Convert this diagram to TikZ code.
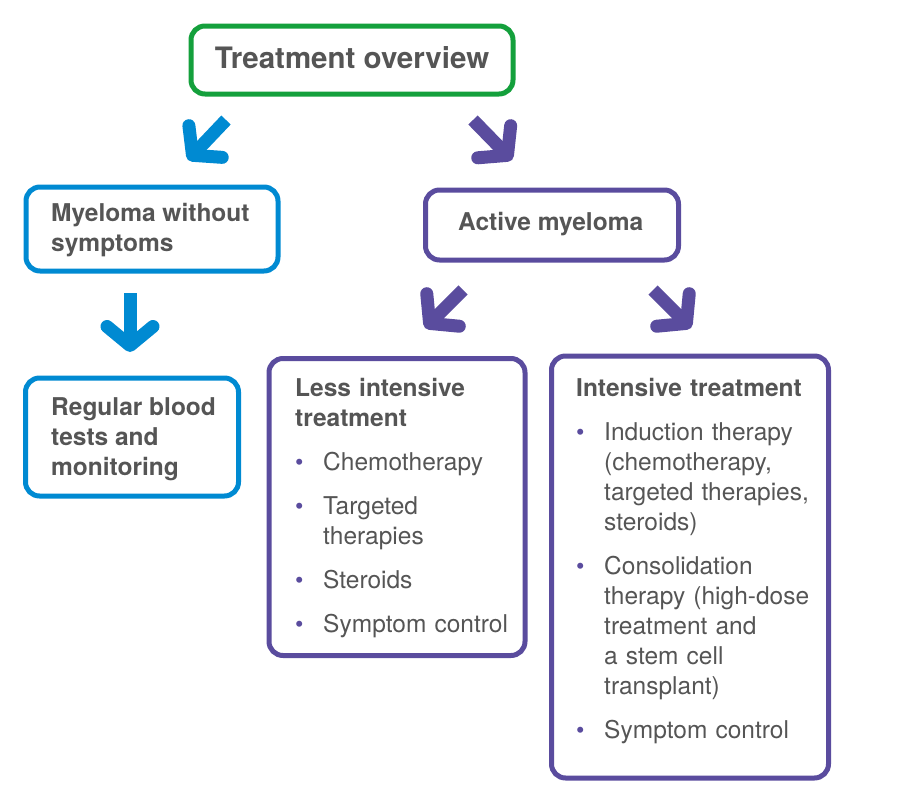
\documentclass[tikz,border=0pt]{standalone}
\usepackage{fontspec}
\setmainfont{TeX Gyre Heros}
\usetikzlibrary{arrows.meta}
\definecolor{grn}{RGB}{20,160,60}
\definecolor{blu}{RGB}{0,138,210}
\definecolor{pur}{RGB}{90,76,158}
\definecolor{txt}{RGB}{85,85,85}
\newcommand{\bitm}[1]{\par\hangindent=28pt\hangafter=1\noindent\makebox[28pt][l]{\hspace{0pt}\textcolor{pur}{\fontsize{24}{24}\selectfont\textbullet}}#1\par\vspace{14pt}}
\begin{document}
\begin{tikzpicture}[x=1pt,y=-1pt,
  box/.style={draw,line width=5pt,rounded corners=14pt,fill=white},
  lbl/.style={anchor=north west,inner sep=0pt,text=txt,align=left,font=\fontsize{24.5}{30}\selectfont},
  arr/.style={line width=13pt,-{Straight Barb[length=19pt,width=46pt,round]}}]
\useasboundingbox (0,0) rectangle (900,803);
\node[box,draw=grn,minimum width=322pt,minimum height=68pt] (top) at (352,60) {};
\node[text=txt,font=\fontsize{29.5}{30}\selectfont\bfseries] (topt) at (352,58) {Treatment overview};
\node[box,draw=blu,minimum width=252pt,minimum height=84pt] (nosym) at (152,229) {};
\node[lbl,font=\fontsize{24.5}{30}\selectfont\bfseries] (nosymt) at (51,203) {Myeloma without\\symptoms};
\node[box,draw=blu,minimum width=213pt,minimum height=118pt] (blood) at (132,437) {};
\node[lbl,font=\fontsize{24.5}{30}\selectfont\bfseries] (bloodt) at (51,397) {Regular blood\\tests and\\monitoring};
\node[box,draw=pur,minimum width=253pt,minimum height=70pt] (act) at (552,225) {};
\node[lbl,font=\fontsize{24.5}{30}\selectfont\bfseries] (actt) at (458,212) {Active myeloma};
\node[box,draw=pur,minimum width=256pt,minimum height=297pt] (less) at (397,507) {};
\node[lbl,text width=235pt] (lesst) at (295,378) {{\bfseries Less intensive\newline treatment}\par\vspace{14pt}
\bitm{Chemotherapy}\bitm{Targeted\newline therapies}\bitm{Steroids}\bitm{Symptom control}};
\node[box,draw=pur,minimum width=277pt,minimum height=422pt] (int) at (690,567) {};
\node[lbl,text width=255pt] (intt) at (576,378) {{\bfseries Intensive treatment}\par\vspace{14pt}
\bitm{Induction therapy\newline(chemotherapy,\newline targeted therapies,\newline steroids)}\bitm{Consolidation\newline therapy (high-dose\newline treatment and\newline a stem cell\newline transplant)}\bitm{Symptom control}};
\coordinate (a1s) at (226,120); \coordinate (a1e) at (188,160);
\coordinate (a2s) at (473,120); \coordinate (a2e) at (512,160);
\coordinate (a3s) at (130,293); \coordinate (a3e) at (130,352);
\coordinate (a4s) at (463,290); \coordinate (a4e) at (425,328);
\coordinate (a5s) at (653,290); \coordinate (a5e) at (691,328);
\draw[arr,blu] (a1s) -- (a1e);
\draw[arr,pur] (a2s) -- (a2e);
\draw[arr,blu] (a3s) -- (a3e);
\draw[arr,pur] (a4s) -- (a4e);
\draw[arr,pur] (a5s) -- (a5e);
\end{tikzpicture}
\end{document}
